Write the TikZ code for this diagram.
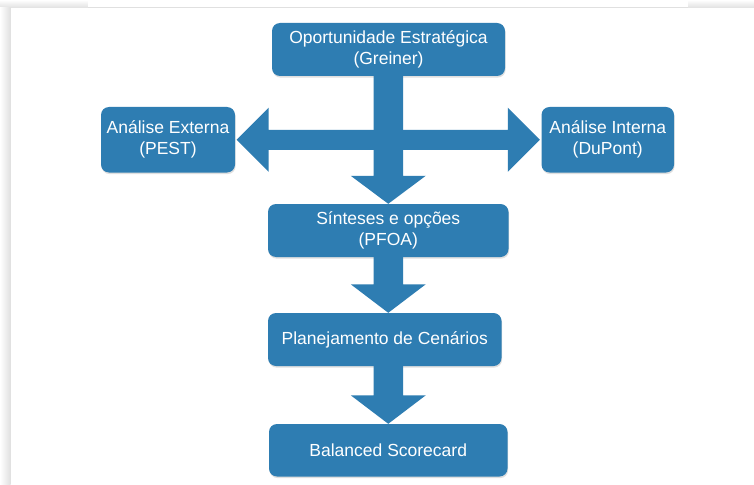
\documentclass[tikz,border=0pt]{standalone}
\usepackage{fontspec}
\setmainfont{Liberation Sans}
\usetikzlibrary{calc,shadows}
\definecolor{boxblue}{RGB}{46,125,178}
\definecolor{edgegray}{RGB}{224,224,224}
\begin{document}
\begin{tikzpicture}[x=1pt,y=-1pt,
  boxnode/.style={fill=boxblue, rounded corners=8pt, text=white, align=center,
    font=\fontsize{17.5}{21}\selectfont, inner sep=0pt,
    drop shadow={opacity=0.25, shadow xshift=0.6pt, shadow yshift=-1.6pt}},
  arrowfill/.style={fill=boxblue}]
% background and page edges
\fill[white] (0,0) rectangle (754,484);
\useasboundingbox (0,0) rectangle (754,484);
\shade[top color=white, bottom color=edgegray] (0,0) rectangle (754,8);
\fill[white] (88,0) rectangle (688,7);
\draw[edgegray, line width=0.8pt] (88,7.4) -- (688,7.4);
\shade[left color=white, right color=edgegray] (0,8) rectangle (10.5,484);
% boxes
\node[boxnode, minimum width=233pt, minimum height=53pt] (top) at (388.5,49.5)
  {Oportunidade Estratégica\\(Greiner)};
\node[boxnode, minimum width=134pt, minimum height=65.5pt] (ext) at (168,139.75)
  {Análise Externa\\(PEST)};
\node[boxnode, minimum width=132.5pt, minimum height=65.5pt] (int) at (607.75,139.75)
  {Análise Interna\\(DuPont)};
\node[boxnode, minimum width=240.5pt, minimum height=53pt] (sint) at (388.25,230.5)
  {Sínteses e opções\\(PFOA)};
\node[boxnode, minimum width=233.5pt, minimum height=53pt] (plan) at (384.75,339.5)
  {Planejamento de Cenários};
\node[boxnode, minimum width=238.5pt, minimum height=52.5pt] (bsc) at (388.25,450.25)
  {Balanced Scorecard};
% horizontal double arrow
\fill[arrowfill] let \p1=(ext.east), \p2=(int.west) in
  (\x1+1.5pt,\y1) -- (\x1+33.5pt,\y1+32pt) -- (\x1+33.5pt,\y1+10pt)
  -- (\x2-33.5pt,\y1+10pt) -- (\x2-33.5pt,\y1+32pt) -- (\x2-1.5pt,\y1)
  -- (\x2-33.5pt,\y1-32pt) -- (\x2-33.5pt,\y1-10pt)
  -- (\x1+33.5pt,\y1-10pt) -- (\x1+33.5pt,\y1-32pt) -- cycle;
% vertical block arrows
\fill[arrowfill] let \p1=(top.south), \p2=(sint.north) in
  (\x2-14.75pt,\y1) -- (\x2+14.75pt,\y1) -- (\x2+14.75pt,\y2+28pt)
  -- (\x2+37.5pt,\y2+28pt) -- (\x2,\y2) -- (\x2-37.5pt,\y2+28pt)
  -- (\x2-14.75pt,\y2+28pt) -- cycle;
\fill[arrowfill] let \p1=(sint.south), \p2=(plan.north), \p3=(sint.north) in
  (\x3-14.75pt,\y1) -- (\x3+14.75pt,\y1) -- (\x3+14.75pt,\y2+28.5pt)
  -- (\x3+37.5pt,\y2+28.5pt) -- (\x3,\y2) -- (\x3-37.5pt,\y2+28.5pt)
  -- (\x3-14.75pt,\y2+28.5pt) -- cycle;
\fill[arrowfill] let \p1=(plan.south), \p2=(bsc.north) in
  (\x2-14.75pt,\y1) -- (\x2+14.75pt,\y1) -- (\x2+14.75pt,\y2+28.5pt)
  -- (\x2+37.5pt,\y2+28.5pt) -- (\x2,\y2) -- (\x2-37.5pt,\y2+28.5pt)
  -- (\x2-14.75pt,\y2+28.5pt) -- cycle;
\end{tikzpicture}
\end{document}
